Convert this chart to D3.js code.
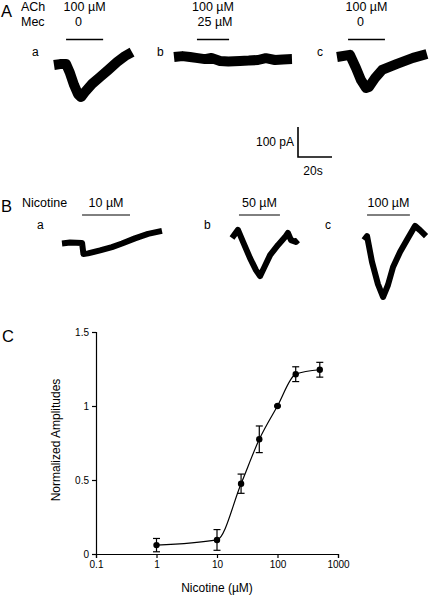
<!DOCTYPE html>
<html><head><meta charset="utf-8">
<script src="https://cdn.jsdelivr.net/npm/d3@7"></script>
<style>
html,body{margin:0;padding:0;background:#fff;}
svg{display:block;font-family:"Liberation Sans",Arial,sans-serif;}
</style></head>
<body>
<svg id="fig" width="430" height="597"></svg>
<script>
// ---------- Panel C data ----------
const concentrations = [1, 10, 25, 50, 100, 200, 500];           // Nicotine (µM)
const amplitudes     = [0.06, 0.095, 0.475, 0.775, 1.0, 1.215, 1.245];
const amplitudeSEM   = [0.045, 0.07, 0.065, 0.09, 0.005, 0.05, 0.05];
const xTickValues = [0.1, 1, 10, 100, 1000];
const xTickLabels = ["0.1", "1", "10", "100", "1000"];
const yTickValues = [0, 0.5, 1, 1.5];
const yTickLabels = ["0", "0.5", "1", "1.5"];

// ---------- Panel A/B current traces (time s, current pA) ----------
const traceA_a_t = [0, 3.5, 7.1, 9.4, 11.8, 14.1, 15.9, 18.2, 22.4, 27.1, 31.8, 37.1, 41.8, 45.9];
const traceA_a_I = [0, 3, 3, -27, -67, -97, -107, -90, -63, -40, -17, 10, 30, 43];
const traceA_b_t = [0, 5, 9.4, 13, 18.2, 22, 27.1, 32, 38.8, 44, 49.4, 54, 59.4, 64, 69.4];
const traceA_b_I = [0, 3, 0, -3, -7, -3, -13, -15, -13, -12, -10, -4, -10, -8, -7];
const traceA_c_t = [0, 7.6, 11.2, 14.1, 17.1, 18.8, 22.4, 26.5, 35.3, 44.7, 52.9];
const traceA_c_I = [0, 7, -37, -77, -103, -100, -70, -43, -23, -3, 10];
const traceB_a_t = [0, 4.7, 11.8, 12.6, 15.3, 22.4, 29.4, 35.3, 42.9, 50.6, 58.8];
const traceB_a_I = [0, 3, 2, -35, -33, -23, -12, 0, 17, 32, 42];
const traceB_b_t = [0, 3.5, 6.5, 10.6, 14.1, 16.5, 18.8, 22.4, 27.1, 31.2, 32.9, 34.7, 37.6, 38.8];
const traceB_b_I = [0, 27, -13, -67, -107, -127, -100, -57, -23, 3, 17, -7, -13, -7];
const traceB_c_t = [0, 1.8, 4.7, 8.2, 11.2, 14.1, 17.1, 21.2, 25.9, 30, 32.9, 36.5];
const traceB_c_I = [0, 13, -73, -147, -190, -150, -90, -40, 7, 47, 33, 13];

// drug application bars (start, end in s relative to trace start)
const barsA = [[7.1, 28.9], [13.5, 32.4], [6.5, 28.2]];
const barsB = [[11.8, 40.0], [4.1, 28.2], [1.8, 27.0]];
const achLabels = ["100 µM", "100 µM", "100 µM"];
const mecLabels = ["0", "25 µM", "0"];
const nicLabels = ["10 µM", "50 µM", "100 µM"];
const subLabels = ["a", "b", "c"];

const svg = d3.select("#fig");
const font = '"Liberation Sans",Arial,sans-serif';

// scale factors from the scale bar: 20 s -> 34 px, 100 pA -> 30 px
function drawTrace(t, I, x0, y0, width) {
  const xs = d3.scaleLinear().domain([0, 20]).range([x0, x0 + 34]);
  const ys = d3.scaleLinear().domain([0, -100]).range([y0, y0 + 30]);
  const line = d3.line().x((d, i) => xs(t[i])).y((d, i) => ys(I[i])).curve(d3.curveLinear);
  svg.append("path").attr("d", line(t)).attr("fill", "none")
    .attr("stroke", "#000").attr("stroke-width", width)
    .attr("stroke-linejoin", "round").attr("stroke-linecap", "butt");
  return xs;
}
function txt(x, y, s, size, anchor) {
  return svg.append("text").attr("x", x).attr("y", y).text(s)
    .attr("font-size", size).attr("text-anchor", anchor || "start").attr("fill", "#000");
}

// ---------- Panel A ----------
txt(1, 16.5, "A", 16.5);
txt(21, 11, "ACh", 12.5);
txt(21, 26, "Mec", 12.5);
const aOrig = [[54, 65], [174, 57], [337, 57]];
const aT = [traceA_a_t, traceA_b_t, traceA_c_t], aI = [traceA_a_I, traceA_b_I, traceA_c_I];
const aLetterX = [32, 157, 317];
aOrig.forEach((o, k) => {
  const xs = drawTrace(aT[k], aI[k], o[0], o[1], 10);
  const b = barsA[k];
  svg.append("line").attr("x1", xs(b[0])).attr("x2", xs(b[1])).attr("y1", 39.5).attr("y2", 39.5)
    .attr("stroke", "#000").attr("stroke-width", 1.3);
  const cx = (xs(b[0]) + xs(b[1])) / 2;
  txt(cx, 11, achLabels[k], 12.5, "middle");
  if (mecLabels[k] === "0") txt(cx - 6, 26, mecLabels[k], 12.5, "middle");
  else txt(cx + 2, 26, mecLabels[k], 12.5, "middle");
  txt(aLetterX[k], 56, subLabels[k], 12);
});

// scale bar
svg.append("path").attr("d", "M298,127V157H332").attr("fill", "none").attr("stroke", "#000").attr("stroke-width", 1.6);
txt(294, 146, "100 pA", 12, "end");
txt(313, 175, "20s", 12, "middle");

// ---------- Panel B ----------
txt(1, 211.5, "B", 16.5);
txt(22, 207, "Nicotine", 12.5);
const bOrig = [[62, 243.5], [232, 238], [364, 240]];
const bT = [traceB_a_t, traceB_b_t, traceB_c_t], bI = [traceB_a_I, traceB_b_I, traceB_c_I];
const bLetterX = [37, 204, 325];
bOrig.forEach((o, k) => {
  const xs = drawTrace(bT[k], bI[k], o[0], o[1], 6);
  const b = barsB[k];
  svg.append("line").attr("x1", xs(b[0])).attr("x2", xs(b[1])).attr("y1", 215).attr("y2", 215)
    .attr("stroke", "#000").attr("stroke-width", 1);
  const cx = (xs(b[0]) + xs(b[1])) / 2;
  txt(cx, 207, nicLabels[k], 12.5, "middle");
  txt(bLetterX[k], 229, subLabels[k], 12);
});

// ---------- Panel C ----------
txt(2, 341.5, "C", 16.5);
const x = d3.scaleLog().domain([0.1, 1000]).range([96, 338]);
const y = d3.scaleLinear().domain([0, 1.5]).range([554, 332]);

const xAxis = svg.append("g").attr("transform", "translate(0,554)")
  .call(d3.axisBottom(x).tickValues(xTickValues).tickFormat((d, i) => xTickLabels[i]).tickSizeOuter(0).tickSize(4).tickPadding(3));
const yAxis = svg.append("g").attr("transform", "translate(96,0)")
  .call(d3.axisLeft(y).tickValues(yTickValues).tickFormat((d, i) => yTickLabels[i]).tickSizeOuter(0).tickSize(4).tickPadding(3));
[xAxis, yAxis].forEach(g => {
  g.selectAll("text").attr("font-size", 10).attr("font-family", font).attr("fill", "#000");
  g.selectAll("line,path").attr("stroke", "#000").attr("stroke-width", 1.2);
});

svg.append("text").attr("transform", "translate(60,440) rotate(-90)")
  .attr("text-anchor", "middle").attr("font-size", 12).text("Normalized Amplitudes");
txt(217, 592, "Nicotine (µM)", 12, "middle");

// fitted curve through data
const pts = concentrations.map((c, i) => [c, amplitudes[i]]);
svg.append("path").attr("d", d3.line().x(d => x(d[0])).y(d => y(d[1])).curve(d3.curveMonotoneX)(pts))
  .attr("fill", "none").attr("stroke", "#000").attr("stroke-width", 1.2);

// error bars
const eb = svg.append("g").attr("stroke", "#000").attr("stroke-width", 1.2);
concentrations.forEach((c, i) => {
  const cx = x(c), top = y(amplitudes[i] + amplitudeSEM[i]), bot = y(amplitudes[i] - amplitudeSEM[i]);
  eb.append("line").attr("x1", cx).attr("x2", cx).attr("y1", top).attr("y2", bot);
  eb.append("line").attr("x1", cx - 3.5).attr("x2", cx + 3.5).attr("y1", top).attr("y2", top);
  eb.append("line").attr("x1", cx - 3.5).attr("x2", cx + 3.5).attr("y1", bot).attr("y2", bot);
});
svg.append("g").selectAll("circle").data(pts).join("circle")
  .attr("cx", d => x(d[0])).attr("cy", d => y(d[1])).attr("r", 3.2).attr("fill", "#000");
</script>
</body></html>
